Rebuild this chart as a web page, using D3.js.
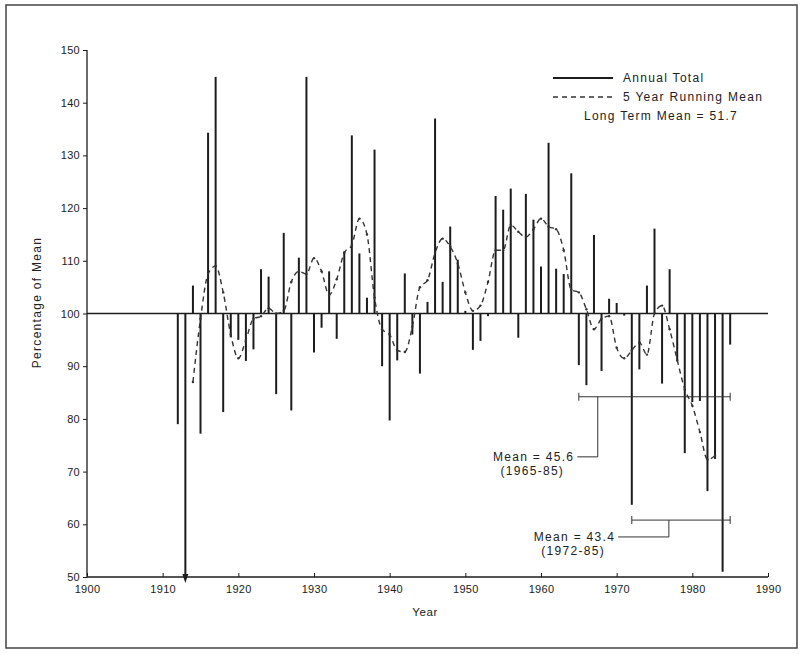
<!DOCTYPE html>
<html>
<head>
<meta charset="utf-8">
<script src="https://cdn.jsdelivr.net/npm/d3@7"></script>
<style>
  html, body { margin: 0; padding: 0; background: #ffffff; }
  svg { display: block; font-family: "Liberation Sans", Arial, Helvetica, sans-serif; }
</style>
</head>
<body>
<svg id="chart" width="803" height="654"></svg>
<script>
// ---- data (percentage of long-term mean) ----
const years = [1912,1913,1914,1915,1916,1917,1918,1919,1920,1921,1922,1923,1924,1925,1926,1927,1928,1929,
  1930,1931,1932,1933,1934,1935,1936,1937,1938,1939,1940,1941,1942,1943,1944,1945,1946,1947,1948,1949,
  1950,1951,1952,1953,1954,1955,1956,1957,1958,1959,1960,1961,1962,1963,1964,1965,1966,1967,1968,1969,
  1970,1971,1972,1973,1974,1975,1976,1977,1978,1979,1980,1981,1982,1983,1984,1985];
const annualTotal = [79,46,105.3,77.2,134.3,144.9,81.3,95.5,95,91,93.2,108.4,107,84.7,115.3,81.6,110.6,144.9,
  92.6,97.3,108,95.2,111.8,133.8,111.4,103,131.1,90,79.7,91.1,107.6,96,88.6,102.2,137,106,116.5,110.2,
  100.5,93.1,94.8,99.5,122.3,119.7,123.7,95.4,122.7,117.8,108.9,132.4,108.5,107.5,126.6,90.2,86.4,114.9,89.1,102.8,
  102,99.6,63.7,89.4,105.3,116.1,86.7,108.4,90.9,73.5,83.2,83.4,66.3,72.4,51,94.1];
const offScaleYears = [1913];

const meanYears = [1914,1915,1916,1917,1918,1919,1920,1921,1922,1923,1924,1925,1926,1927,1928,1929,
  1930,1931,1932,1933,1934,1935,1936,1937,1938,1939,1940,1941,1942,1943,1944,1945,1946,1947,1948,1949,
  1950,1951,1952,1953,1954,1955,1956,1957,1958,1959,1960,1961,1962,1963,1964,1965,1966,1967,1968,1969,
  1970,1971,1972,1973,1974,1975,1976,1977,1978,1979,1980,1981,1982,1983];
const runningMean = [87,99,107.5,109,104,96,91.5,95,99,99.5,101,100,100.5,106,108,107.5,
  110.5,108,103.5,106.5,111.5,113,118,115,103,97,96,93,92.7,97.5,105,106.3,111.5,114.2,112.7,109.5,
  104,100.5,101.5,106,112,112,116.8,115.5,114.5,116,118,116.5,116,112,104.5,104,100.8,97,99,99.5,
  93.5,91.5,93,94.5,92.2,100,101.5,97,91.2,85.6,82.5,77.5,72.3,73];

const xTicks = [1900,1910,1920,1930,1940,1950,1960,1970,1980,1990];
const yTicks = [50,60,70,80,90,100,110,120,130,140,150];

const periodMeans = [
  {label: "Mean = 45.6", period: "(1965-85)", from: 1965, to: 1985, level: 84.2, leaderYear: 1967.5, leaderTo: 72.8, textYear: 1964.8},
  {label: "Mean = 43.4", period: "(1972-85)", from: 1972, to: 1985, level: 60.8, leaderYear: 1976.9, leaderTo: 57.6, textYear: 1970.2}
];

const legendItems = ["Annual Total", "5 Year Running Mean"];
const legendNote = "Long Term Mean = 51.7";

// ---- drawing ----
const svg = d3.select("#chart");
const ink = "#1c1c1c";
const txt = "#222";
const wideText = sel => sel.attr("font-size", 12).attr("letter-spacing", 1.3).attr("fill", txt);

svg.append("rect").attr("x", 0).attr("y", 0).attr("width", 803).attr("height", 654).attr("fill", "#fff");
svg.append("rect").attr("x", 6).attr("y", 5).attr("width", 791).attr("height", 643)
  .attr("fill", "none").attr("stroke", "#444").attr("stroke-width", 1.5);

const x = d3.scaleLinear().domain([1900, 1990]).range([87, 768]);
const y = d3.scaleLinear().domain([50, 150]).range([577, 50]);

// axes
const yAxis = svg.append("g").attr("transform", `translate(${x(1900)},0)`)
  .call(d3.axisLeft(y).tickValues(yTicks).tickSize(4).tickPadding(3));
const xAxis = svg.append("g").attr("transform", `translate(0,${y(50)})`)
  .call(d3.axisBottom(x).tickValues(xTicks).tickFormat(d3.format("d")).tickSize(-4).tickPadding(8));
[yAxis, xAxis].forEach(g => {
  g.select(".domain").attr("stroke", ink).attr("stroke-width", 1.3);
  g.selectAll(".tick line").attr("stroke", ink).attr("stroke-width", 1);
  g.selectAll(".tick text").attr("fill", txt).attr("font-size", 11).attr("letter-spacing", 0.3)
    .attr("font-family", "'Liberation Sans', Arial, sans-serif");
});
xAxis.select(".domain").attr("d", `M${x(1900)},0H${x(1990)}`);
yAxis.select(".domain").attr("d", `M0,${y(150)}V${y(50)}`);

svg.append("text").attr("x", 425).attr("y", 616).attr("text-anchor", "middle")
  .call(wideText).attr("font-size", 11.5).attr("letter-spacing", 0.6).text("Year");
svg.append("text").attr("transform", `translate(41,${y(100) - 11}) rotate(-90)`)
  .attr("text-anchor", "middle").call(wideText).text("Percentage of Mean");

// baseline at 100
svg.append("line").attr("x1", x(1900)).attr("x2", x(1990)).attr("y1", y(100)).attr("y2", y(100))
  .attr("stroke", ink).attr("stroke-width", 1.5);

// bars
const bars = years.map((yr, i) => ({yr, v: annualTotal[i], off: offScaleYears.includes(yr)}));
svg.append("g").selectAll("line").data(bars).join("line")
  .attr("x1", d => x(d.yr)).attr("x2", d => x(d.yr))
  .attr("y1", y(100)).attr("y2", d => y(Math.max(d.v, 50)))
  .attr("stroke", ink).attr("stroke-width", 2);
// arrowheads for off-scale values
svg.append("g").selectAll("path").data(bars.filter(d => d.off)).join("path")
  .attr("d", d => {
    const cx = x(d.yr), ty = y(50) + 6;
    return `M${cx - 3},${ty - 9}L${cx + 3},${ty - 9}L${cx},${ty}Z`;
  }).attr("fill", ink);

// running mean
const rm = meanYears.map((yr, i) => ({yr, v: runningMean[i]}));
const line = d3.line().x(d => x(d.yr)).y(d => y(d.v)).curve(d3.curveMonotoneX);
svg.append("path").datum(rm).attr("d", line).attr("fill", "none")
  .attr("stroke", "#333").attr("stroke-width", 1.4).attr("stroke-dasharray", "5,4");
svg.append("g").selectAll("circle").data(rm).join("circle")
  .attr("cx", d => x(d.yr)).attr("cy", d => y(d.v)).attr("r", 1.2).attr("fill", "#333");

// period mean annotations
const ann = svg.append("g").attr("stroke", "#333").attr("fill", "none");
periodMeans.forEach(p => {
  const ly = y(p.level);
  ann.append("line").attr("x1", x(p.from)).attr("x2", x(p.to)).attr("y1", ly).attr("y2", ly).attr("stroke-width", 1);
  [p.from, p.to].forEach(t => ann.append("line").attr("x1", x(t)).attr("x2", x(t)).attr("y1", ly - 4).attr("y2", ly + 4).attr("stroke-width", 1));
  const ty = y(p.leaderTo);
  ann.append("path").attr("d", `M${x(p.leaderYear)},${ly}V${ty}H${x(p.textYear)}`).attr("stroke-width", 1);
  svg.append("text").attr("x", x(p.textYear) - 3).attr("y", ty + 4).attr("text-anchor", "end")
    .call(wideText).text(p.label);
  svg.append("text").attr("x", x(p.textYear) - 45).attr("y", ty + 18).attr("text-anchor", "middle")
    .call(wideText).text(p.period);
});

// legend
const lg = svg.append("g");
lg.append("line").attr("x1", 553).attr("x2", 613).attr("y1", 78).attr("y2", 78)
  .attr("stroke", ink).attr("stroke-width", 2);
lg.append("line").attr("x1", 553).attr("x2", 613).attr("y1", 97).attr("y2", 97)
  .attr("stroke", "#333").attr("stroke-width", 1.4).attr("stroke-dasharray", "5,4");
legendItems.forEach((t, i) => lg.append("text").attr("x", 623).attr("y", 82 + i * 19)
  .call(wideText).text(t));
lg.append("text").attr("x", 661).attr("y", 120).attr("text-anchor", "middle")
  .call(wideText).text(legendNote);
</script>
</body>
</html>
